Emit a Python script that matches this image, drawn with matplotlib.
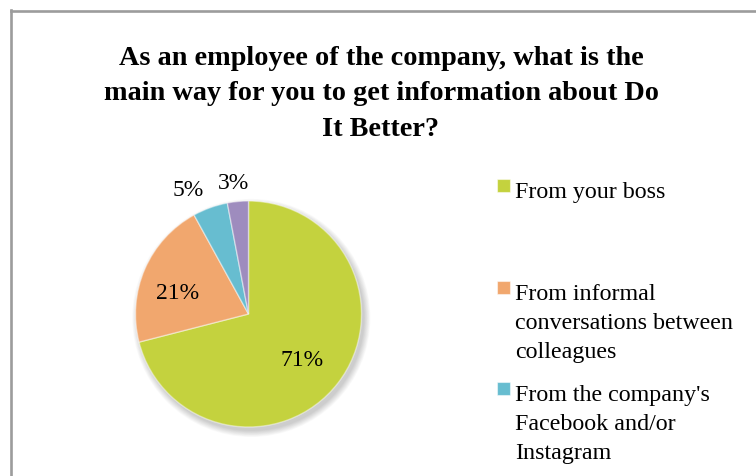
import numpy as np
import matplotlib
matplotlib.use("Agg")
import matplotlib.pyplot as plt
from matplotlib.patches import Circle, Rectangle
from matplotlib.lines import Line2D

plt.rcParams["font.family"] = ["Liberation Serif", "DejaVu Serif"]

# Survey results
title = ("As an employee of the company, what is the\n"
         "main way for you to get information about Do\n"
         "It Better?")
categories = [
    "From your boss",
    "From informal\nconversations between\ncolleagues",
    "From the company's\nFacebook and/or\nInstagram",
    "Other",
]
shares = [71, 21, 5, 3]
colors = ["#C4D23E", "#F1A76E", "#67BDD0", "#9E8CBE"]

W, H = 756, 477
fig = plt.figure(figsize=(W / 100, H / 100), dpi=100)

def fx(px):
    return px / W

def fy(py):
    return 1 - py / H

# frame of the chart area
fig.add_artist(Line2D([fx(10.5), fx(10.5)], [fy(11), 0], color="#9C9C9C", lw=1.9,
                      transform=fig.transFigure))
fig.add_artist(Line2D([fx(10.5), 1], [fy(11.5), fy(11.5)], color="#9C9C9C", lw=1.9,
                      transform=fig.transFigure))

fig.text(fx(381), fy(94), title, ha="center", va="center", fontsize=20.3,
         fontweight="bold", linespacing=1.56)

# pie axes
cx, cy, r = 248.5, 315, 113
pad = 1.3
ax = fig.add_axes([fx(cx - r * pad), fy(cy + r * pad), 2 * r * pad / W, 2 * r * pad / H])
ax.set_xlim(-pad, pad)
ax.set_ylim(-pad, pad)
ax.set_aspect("equal")
ax.axis("off")

# soft drop shadow
for k in range(10):
    ax.add_patch(Circle((0.025, -0.035), 1.0 + 0.006 * k, color="black",
                        alpha=0.018, lw=0, zorder=0))

wedges, _ = ax.pie(shares, colors=colors, startangle=90, counterclock=False,
                   radius=1.0, wedgeprops=dict(edgecolor=(1, 1, 1, 0.45), linewidth=1.0))
for w in wedges:
    w.set_zorder(2)
ax.set_xlim(-pad, pad)
ax.set_ylim(-pad, pad)

# value labels: radial distance and angular nudge (degrees) from each slice's middle
label_dist = [0.61, 0.66, 1.24, 1.19]
label_nudge = [-0.9, 4.8, 5.5, 1.1]
total = sum(shares)
start = 90.0
for val, d, nudge in zip(shares, label_dist, label_nudge):
    span = 360.0 * val / total
    mid = np.deg2rad(start - span / 2 + nudge)
    ax.text(d * np.cos(mid), d * np.sin(mid) - 0.02, f"{val}%", ha="center",
            va="center", fontsize=17, zorder=3)
    start -= span

# legend (the chart area only has room for the first three entries)
entry_top = [190, 292, 393]
for label, col, ty in zip(categories, colors, entry_top):
    fig.add_artist(Rectangle((fx(497), fy(ty + 3)), 13 / W, 13 / H, facecolor=col,
                             edgecolor=(1, 1, 1, 0.5), lw=0.8, transform=fig.transFigure))
    fig.text(fx(515), fy(ty - 8), label, ha="left", va="top", fontsize=17.3,
             linespacing=1.5)

fig.savefig("out.png", dpi=100)
